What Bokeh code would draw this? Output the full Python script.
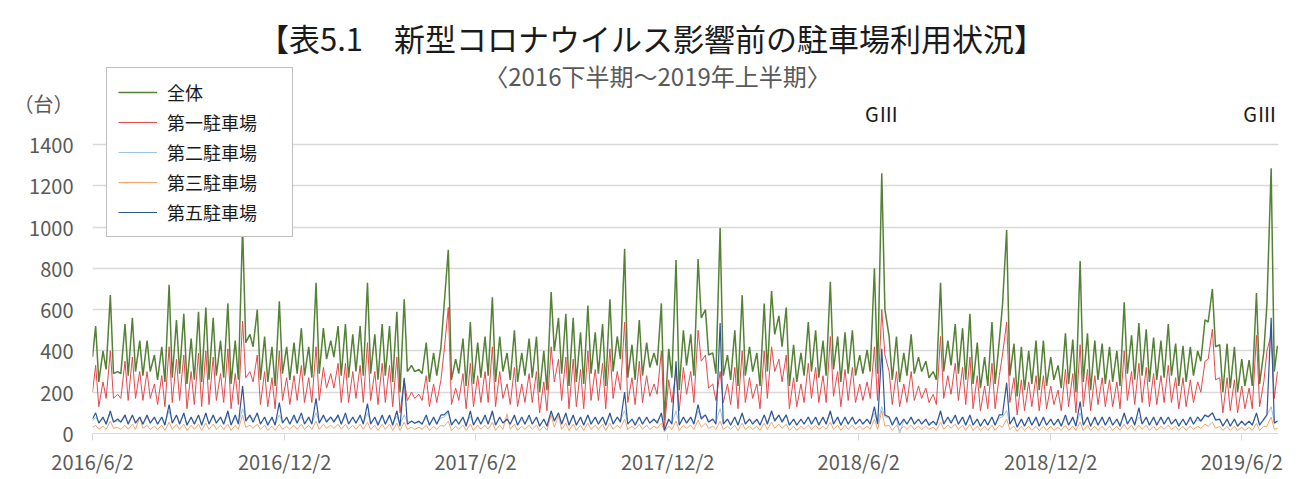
import pandas as pd
from bokeh.plotting import figure
from bokeh.models import Range1d, FixedTicker, Label, Legend, LegendItem
from bokeh.embed import file_html
from bokeh.resources import INLINE

# ---------------- text ----------------
TITLE = "【表5.1　新型コロナウイルス影響前の駐車場利用状況】"
SUBTITLE = "〈2016下半期～2019年上半期〉"
UNIT = "（台）"
UNIT_LEVEL = 1600            # unit text sits at the height of this (unlabelled) level
SERIES = ["全体", "第一駐車場", "第二駐車場", "第三駐車場", "第五駐車場"]
X_TICK_DATES = ["2016-06-02", "2016-12-02", "2017-06-02", "2017-12-02",
                "2018-06-02", "2018-12-02", "2019-06-02"]
X_TICK_LABELS = ["2016/6/2", "2016/12/2", "2017/6/2", "2017/12/2",
                 "2018/6/2", "2018/12/2", "2019/6/2"]
Y_TICKS = [0, 200, 400, 600, 800, 1000, 1200, 1400]
EVENT_DATES = ["2018-06-24", "2019-06-30"]
EVENT_LABELS = ["GⅢ", "GⅢ"]

# ---------------- dates ----------------
FIRST_DATE = "2016-06-02"      # first observation
FIRST_SUNDAY = "2016-06-05"    # weekly peak days (Sundays)
N_WEEKS = 161
LAST_DATE = "2019-07-06"       # last observation
AXIS_END = "2019-07-07"

# ---------------- values (台) : weekly peak (Sun) and mid-week low ----------------
total_start, total_end = 370, 425
total_peak = [
    520, 400, 670, 300, 530, 560, 450, 450, 380, 420,
    720, 550, 580, 460, 590, 610, 560, 450, 630, 450,
    1000, 480, 600, 470, 420, 640, 420, 440, 510, 420,
    730, 510, 450, 520, 530, 480, 520, 730, 480, 530,
    520, 590, 650, 330, 310, 440, 390, 420, 890, 360,
    460, 540, 440, 470, 660, 470, 390, 500, 390, 460,
    470, 400, 685, 560, 580, 560, 490, 620, 490, 530,
    650, 470, 895, 430, 550, 440, 390, 630, 410, 840,
    500, 480, 845, 600, 390, 995, 380, 500, 670, 420,
    390, 630, 690, 570, 610, 430, 390, 540, 500, 450,
    735, 470, 490, 500, 380, 405, 800, 1260, 470, 470,
    390, 480, 370, 350, 300, 730, 450, 530, 510, 580,
    440, 370, 540, 450, 985, 435, 420, 400, 450, 450,
    370, 330, 485, 455, 835, 485, 450, 435, 420, 400,
    635, 475, 535, 505, 465, 450, 530, 435, 425, 420,
    400, 550, 700, 430, 435, 420, 360, 355, 680, 395,
    1285]
total_low = [
    250, 310, 290, 290, 280, 300, 280, 300, 260, 250,
    270, 290, 240, 260, 250, 260, 280, 270, 240, 260,
    440, 420, 260, 250, 230, 290, 260, 290, 280, 270,
    290, 360, 370, 280, 270, 300, 280, 290, 260, 280,
    250, 200, 300, 300, 290, 250, 280, 620, 260, 290,
    230, 240, 270, 280, 250, 300, 260, 250, 280, 270,
    200, 210, 400, 290, 230, 250, 240, 290, 290, 230,
    300, 360, 270, 260, 280, 320, 330, 65, 270, 210,
    330, 280, 560, 380, 290, 280, 260, 230, 280, 300,
    230, 300, 480, 420, 230, 250, 280, 300, 270, 280,
    310, 250, 290, 280, 290, 300, 290, 600, 260, 250,
    280, 290, 300, 270, 260, 300, 330, 290, 260, 240,
    220, 230, 240, 620, 280, 180, 210, 240, 210, 230,
    260, 220, 240, 200, 250, 210, 260, 240, 250, 230,
    290, 260, 280, 250, 260, 270, 280, 230, 250, 280,
    350, 540, 420, 200, 220, 200, 230, 230, 240, 630,
    300]

first_start, first_end = 200, 300
first_peak = [
    330, 250, 400, 190, 350, 370, 300, 300, 240, 280,
    420, 360, 380, 300, 390, 400, 370, 290, 410, 290,
    545, 300, 380, 300, 270, 400, 270, 280, 330, 270,
    420, 320, 290, 340, 340, 300, 330, 440, 300, 340,
    330, 370, 260, 200, 190, 280, 240, 260, 610, 220,
    290, 340, 280, 300, 420, 300, 240, 320, 240, 290,
    300, 250, 420, 360, 370, 360, 310, 400, 310, 340,
    410, 300, 540, 270, 350, 280, 240, 400, 260, 310,
    320, 300, 500, 380, 240, 300, 240, 320, 400, 270,
    240, 400, 420, 360, 380, 270, 240, 340, 320, 280,
    470, 300, 310, 320, 240, 250, 420, 600, 300, 300,
    240, 300, 230, 220, 190, 470, 280, 340, 320, 370,
    280, 230, 340, 280, 540, 270, 260, 250, 280, 280,
    230, 210, 310, 290, 430, 310, 280, 270, 260, 250,
    400, 300, 340, 320, 290, 280, 330, 270, 270, 260,
    250, 350, 505, 270, 270, 260, 230, 220, 475, 250,
    480]
first_low = [
    130, 170, 170, 170, 160, 170, 160, 170, 140, 130,
    150, 160, 120, 140, 130, 140, 160, 150, 120, 140,
    270, 250, 140, 130, 120, 160, 140, 160, 150, 150,
    160, 220, 220, 150, 150, 170, 150, 160, 140, 150,
    130, 100, 160, 170, 160, 130, 150, 400, 140, 160,
    120, 130, 150, 150, 130, 170, 140, 130, 150, 150,
    100, 110, 250, 160, 120, 130, 120, 160, 160, 120,
    170, 210, 150, 140, 150, 180, 190, 30, 150, 110,
    190, 150, 350, 220, 160, 150, 140, 120, 150, 170,
    120, 170, 300, 250, 120, 130, 150, 170, 150, 150,
    180, 130, 160, 150, 160, 170, 160, 380, 140, 130,
    150, 160, 170, 150, 140, 170, 190, 160, 140, 120,
    110, 120, 120, 380, 150, 90, 110, 130, 110, 120,
    140, 110, 130, 100, 130, 110, 140, 130, 130, 120,
    160, 140, 150, 130, 140, 150, 150, 120, 130, 150,
    200, 360, 260, 100, 110, 100, 120, 120, 130, 400,
    170]

second_start, second_end = 60, 60
second_peak = [
    80, 70, 95, 60, 80, 85, 75, 80, 70, 75,
    110, 85, 90, 75, 85, 90, 85, 75, 90, 75,
    120, 80, 90, 75, 70, 90, 70, 75, 80, 70,
    100, 80, 75, 80, 85, 75, 80, 100, 75, 80,
    80, 85, 90, 60, 55, 75, 70, 75, 100, 65,
    75, 85, 70, 75, 95, 75, 65, 80, 65, 75,
    75, 65, 100, 90, 90, 85, 75, 90, 75, 80,
    90, 75, 110, 70, 80, 70, 65, 90, 65, 110,
    75, 75, 110, 90, 65, 120, 65, 75, 95, 70,
    65, 90, 100, 85, 90, 70, 65, 80, 75, 70,
    100, 75, 75, 75, 65, 65, 100, 130, 75, 75,
    65, 75, 65, 60, 55, 100, 75, 80, 80, 85,
    70, 65, 80, 75, 110, 70, 65, 65, 70, 70,
    65, 60, 75, 70, 100, 75, 70, 70, 65, 65,
    90, 75, 80, 75, 70, 70, 80, 65, 65, 65,
    65, 85, 100, 65, 65, 65, 60, 60, 95, 65,
    130]
second_low = [
    55, 55, 60, 55, 55, 55, 50, 55, 50, 50,
    55, 55, 45, 50, 50, 50, 55, 50, 45, 50,
    75, 70, 50, 50, 45, 55, 50, 55, 55, 50,
    55, 65, 65, 50, 50, 55, 50, 55, 50, 50,
    50, 45, 55, 50, 50, 45, 50, 80, 50, 50,
    45, 45, 50, 50, 45, 55, 50, 45, 50, 50,
    40, 40, 70, 55, 45, 45, 45, 55, 55, 45,
    55, 65, 50, 50, 50, 55, 60, 20, 50, 45,
    60, 50, 80, 65, 55, 50, 50, 45, 50, 55,
    45, 55, 70, 65, 45, 45, 50, 55, 50, 50,
    55, 45, 50, 50, 50, 55, 50, 80, 50, 0,
    50, 50, 55, 50, 50, 55, 60, 50, 45, 45,
    40, 45, 45, 80, 50, 35, 40, 45, 40, 45,
    45, 40, 45, 40, 45, 40, 45, 45, 45, 45,
    55, 50, 50, 45, 50, 50, 50, 45, 45, 50,
    60, 85, 70, 40, 40, 40, 45, 45, 45, 90,
    55]

third_start, third_end = 30, 25
third_peak = [
    40, 35, 60, 30, 40, 45, 80, 40, 35, 40,
    55, 45, 45, 40, 45, 50, 45, 40, 45, 40,
    90, 40, 45, 40, 35, 45, 35, 40, 45, 40,
    60, 45, 40, 45, 45, 40, 45, 55, 40, 45,
    45, 50, 55, 30, 30, 40, 35, 40, 60, 35,
    40, 45, 40, 40, 55, 40, 95, 45, 35, 40,
    40, 35, 90, 85, 50, 45, 40, 50, 40, 45,
    50, 40, 70, 35, 45, 40, 35, 50, 35, 60,
    40, 40, 65, 50, 35, 60, 35, 40, 50, 35,
    35, 50, 55, 45, 45, 35, 35, 40, 40, 35,
    55, 40, 40, 40, 35, 35, 70, 110, 40, 40,
    35, 40, 35, 35, 30, 55, 40, 45, 40, 45,
    35, 35, 40, 40, 70, 35, 35, 35, 35, 35,
    35, 30, 40, 35, 55, 40, 35, 35, 35, 35,
    45, 40, 40, 40, 35, 35, 40, 35, 35, 35,
    35, 45, 55, 35, 35, 35, 30, 30, 50, 35,
    80]
third_low = [
    20, 20, 25, 20, 20, 20, 25, 20, 20, 15,
    20, 20, 15, 20, 15, 20, 20, 20, 15, 20,
    30, 25, 20, 15, 15, 20, 20, 20, 20, 20,
    20, 25, 25, 20, 20, 20, 20, 20, 15, 20,
    15, 15, 20, 20, 20, 15, 20, 35, 15, 20,
    15, 15, 20, 20, 15, 20, 20, 15, 20, 20,
    15, 15, 30, 20, 15, 15, 15, 20, 20, 15,
    20, 25, 20, 20, 20, 20, 25, 10, 20, 15,
    25, 20, 30, 25, 20, 20, 20, 15, 20, 20,
    15, 20, 25, 25, 15, 15, 20, 20, 20, 20,
    20, 15, 20, 20, 20, 20, 20, 35, 15, 15,
    20, 20, 20, 20, 15, 20, 25, 20, 15, 15,
    15, 15, 15, 30, 20, 10, 15, 15, 15, 15,
    15, 15, 15, 15, 15, 15, 15, 15, 15, 15,
    20, 15, 20, 15, 15, 20, 20, 15, 15, 20,
    25, 35, 25, 15, 15, 15, 15, 15, 15, 35,
    20]

fifth_start, fifth_end = 70, 60
fifth_peak = [
    100, 80, 110, 70, 90, 90, 80, 90, 80, 80,
    140, 90, 100, 80, 90, 100, 90, 80, 110, 90,
    230, 90, 100, 80, 80, 150, 80, 90, 100, 80,
    170, 90, 80, 90, 100, 80, 90, 145, 80, 90,
    90, 110, 270, 60, 60, 90, 80, 90, 110, 70,
    80, 110, 80, 90, 110, 80, 70, 90, 80, 90,
    80, 70, 110, 100, 100, 90, 80, 90, 80, 80,
    100, 80, 200, 70, 80, 80, 70, 100, 70, 350,
    80, 80, 140, 90, 70, 535, 70, 80, 100, 70,
    70, 90, 110, 90, 90, 70, 70, 80, 80, 80,
    110, 80, 80, 80, 70, 70, 130, 410, 80, 80,
    70, 80, 70, 70, 60, 110, 80, 90, 80, 90,
    70, 70, 80, 90, 245, 80, 70, 80, 80, 80,
    70, 70, 90, 80, 155, 80, 80, 80, 80, 70,
    100, 80, 125, 80, 80, 80, 80, 70, 70, 80,
    80, 90, 100, 70, 70, 70, 60, 60, 100, 70,
    560]
fifth_low = [
    50, 45, 55, 55, 45, 50, 45, 50, 45, 40,
    50, 45, 40, 45, 40, 45, 50, 45, 40, 45,
    60, 55, 45, 40, 40, 50, 45, 50, 45, 45,
    50, 55, 55, 45, 45, 50, 45, 45, 40, 45,
    40, 35, 45, 50, 45, 40, 45, 90, 40, 45,
    35, 40, 45, 45, 40, 50, 45, 40, 45, 45,
    35, 35, 60, 45, 40, 40, 40, 45, 45, 40,
    45, 55, 45, 40, 45, 50, 50, 15, 45, 40,
    50, 45, 70, 55, 45, 45, 40, 40, 45, 45,
    40, 45, 60, 55, 40, 40, 45, 45, 40, 45,
    45, 40, 45, 45, 45, 45, 45, 90, 40, 40,
    45, 45, 45, 40, 40, 45, 50, 45, 40, 40,
    35, 40, 40, 90, 45, 30, 35, 40, 35, 40,
    40, 35, 40, 35, 40, 35, 40, 40, 40, 35,
    45, 40, 45, 40, 40, 45, 45, 35, 40, 45,
    60, 80, 65, 35, 35, 35, 40, 40, 40, 90,
    50]

# ---------------- styles ----------------
COLORS = ["#548235", "#E5484D", "#9DC3E6", "#F5A36B", "#2F5597"]
WIDTHS = [1.5, 1.0, 1.0, 1.0, 1.2]
FONT = "Noto Sans CJK JP"


def build_dates():
    sundays = pd.date_range(FIRST_SUNDAY, periods=N_WEEKS, freq="7D")
    mids = sundays + pd.Timedelta(days=3)
    out = [pd.Timestamp(FIRST_DATE)]
    for s, m in zip(sundays, mids):
        out += [s, m]
    out.append(pd.Timestamp(LAST_DATE))
    return out


def build_values(start, peaks, lows, end):
    assert len(peaks) == N_WEEKS and len(lows) == N_WEEKS
    out = [start]
    for a, b in zip(peaks, lows):
        out += [a, b]
    out.append(end)
    return out


dates = build_dates()
series_values = [
    build_values(total_start, total_peak, total_low, total_end),
    build_values(first_start, first_peak, first_low, first_end),
    build_values(second_start, second_peak, second_low, second_end),
    build_values(third_start, third_peak, third_low, third_end),
    build_values(fifth_start, fifth_peak, fifth_low, fifth_end),
]


def ms(d):
    return pd.Timestamp(d).value / 1e6


p = figure(width=1298, height=479, x_axis_type="datetime",
           output_backend="svg", toolbar_location=None, title=None,
           x_range=Range1d(ms(FIRST_DATE), ms(AXIS_END)),
           y_range=Range1d(0, 2097),
           min_border_left=92, min_border_right=20,
           min_border_top=0, min_border_bottom=46)
p.outline_line_color = None
p.background_fill_color = "white"
p.border_fill_color = "white"

renderers = []
for name, vals, col, w in zip(SERIES, series_values, COLORS, WIDTHS):
    r = p.line(dates, vals, line_color=col, line_width=w)
    renderers.append(r)

# axes
xt = [ms(d) for d in X_TICK_DATES]
p.xaxis.ticker = FixedTicker(ticks=xt)
p.xaxis.major_label_overrides = {t: lab for t, lab in zip(xt, X_TICK_LABELS)}
p.xaxis.axis_line_color = "#d9d9d9"
p.xaxis.major_tick_line_color = "#d9d9d9"
p.xaxis.major_tick_out = 7
p.xaxis.major_tick_in = 0
p.xaxis.minor_tick_line_color = None
p.xaxis.major_label_standoff = 6
p.xaxis.major_label_text_font = FONT
p.xaxis.major_label_text_font_size = "20px"
p.xaxis.major_label_text_color = "#595959"

p.yaxis.ticker = FixedTicker(ticks=Y_TICKS + [UNIT_LEVEL])
p.yaxis.major_label_overrides = {UNIT_LEVEL: UNIT}
p.yaxis.axis_line_color = None
p.yaxis.major_tick_line_color = None
p.yaxis.minor_tick_line_color = None
p.yaxis.major_tick_out = 0
p.yaxis.major_label_standoff = 19
p.yaxis.major_label_text_font = FONT
p.yaxis.major_label_text_font_size = "20px"
p.yaxis.major_label_text_color = "#595959"

p.xgrid.grid_line_color = None
p.ygrid.ticker = FixedTicker(ticks=Y_TICKS)
p.ygrid.grid_line_color = "#d9d9d9"
p.ygrid.grid_line_width = 1.3

# titles and annotations (screen units relative to the frame's bottom-left)
p.add_layout(Label(x=559, y=396, x_units="screen", y_units="screen", text=TITLE,
                   text_align="center", text_baseline="middle",
                   text_font=FONT, text_font_size="31px", text_color="#1a1a1a"))
p.add_layout(Label(x=565, y=358, x_units="screen", y_units="screen", text=SUBTITLE,
                   text_align="center", text_baseline="middle",
                   text_font=FONT, text_font_size="24px", text_color="#595959"))
for i, (d, t) in enumerate(zip(EVENT_DATES, EVENT_LABELS)):
    p.add_layout(Label(x=ms(d), y=320, y_units="screen", text=t,
                       x_offset=(-11 if i == len(EVENT_DATES) - 1 else 0),
                       text_align="center", text_baseline="middle",
                       text_font=FONT, text_font_size="20px", text_color="#1a1a1a"))

legend = Legend(items=[LegendItem(label=n, renderers=[r]) for n, r in zip(SERIES, renderers)],
                location=(14, 196), orientation="vertical",
                glyph_width=39, glyph_height=20, label_height=20, label_width=114,
                spacing=4, padding=11, margin=0, label_standoff=10,
                border_line_color="#7f7f7f", border_line_width=1,
                background_fill_color="white", background_fill_alpha=1.0,
                label_text_font=FONT, label_text_font_size="18px",
                label_text_color="#1a1a1a")
p.add_layout(legend)

open("out.html", "w").write(file_html(p, INLINE))
